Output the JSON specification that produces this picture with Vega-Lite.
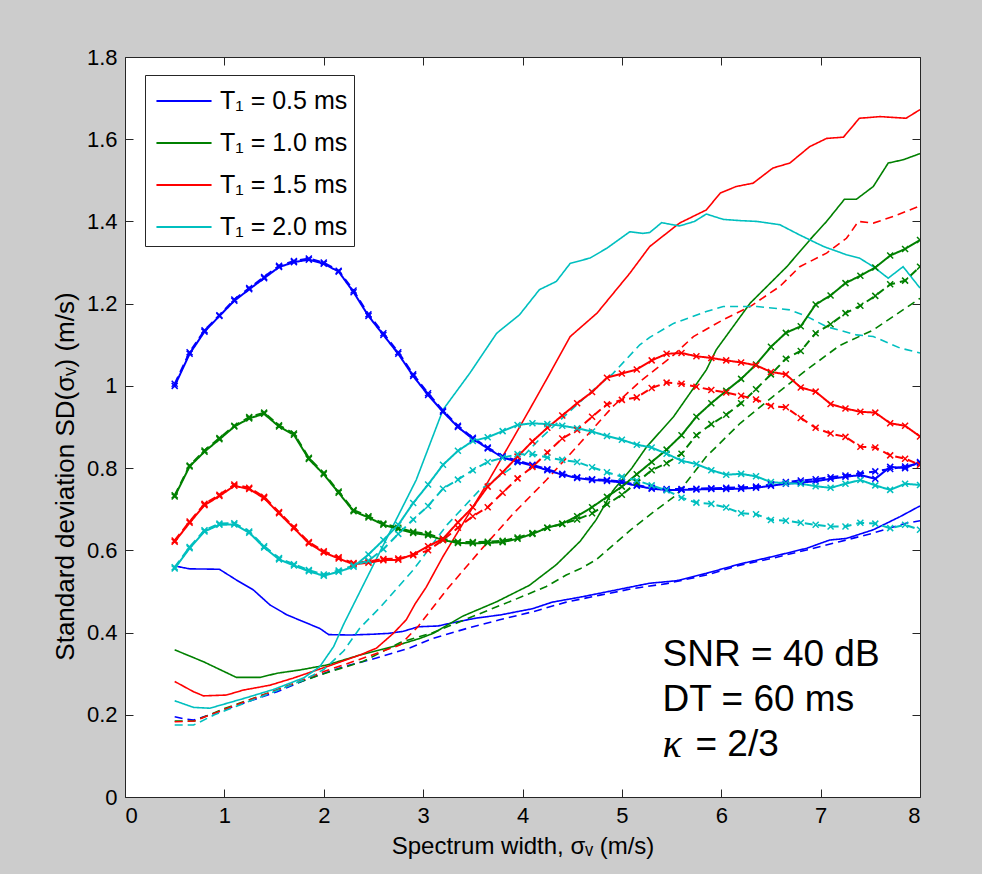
{
 "$schema": "https://vega.github.io/schema/vega-lite/v6.json",
 "width": 795, "height": 740,
 "autosize": {"type": "none"},
 "padding": {"left": 125, "top": 57, "right": 62, "bottom": 77},
 "background": "#cccccc",
 "config": {
  "view": {"fill": "white", "stroke": "#262626", "strokeWidth": 1},
  "font": "Liberation Sans",
  "axis": {"grid": false, "domain": false, "tickColor": "#262626", "tickSize": -8, "tickWidth": 1, "labelColor": "#000", "labelFont": "Liberation Sans", "labelFontSize": 22, "labelPadding": 16, "titleFont": "Liberation Sans", "titleFontSize": 24, "titleFontWeight": "normal", "titleColor": "#000"}
 },
 "datasets": {
  "meta": [
   {"s":"bsm","t":"T₁ = 0.5 ms","d":"solid","m":1},{"s":"bdm","t":"T₁ = 0.5 ms","d":"dashed","m":1},{"s":"bst","t":"T₁ = 0.5 ms","d":"solid","m":0},{"s":"bdt","t":"T₁ = 0.5 ms","d":"dashed","m":0},
   {"s":"gsm","t":"T₁ = 1.0 ms","d":"solid","m":1},{"s":"gdm","t":"T₁ = 1.0 ms","d":"dashed","m":1},{"s":"gst","t":"T₁ = 1.0 ms","d":"solid","m":0},{"s":"gdt","t":"T₁ = 1.0 ms","d":"dashed","m":0},
   {"s":"rsm","t":"T₁ = 1.5 ms","d":"solid","m":1},{"s":"rdm","t":"T₁ = 1.5 ms","d":"dashed","m":1},{"s":"rst","t":"T₁ = 1.5 ms","d":"solid","m":0},{"s":"rdt","t":"T₁ = 1.5 ms","d":"dashed","m":0},
   {"s":"csm","t":"T₁ = 2.0 ms","d":"solid","m":1},{"s":"cdm","t":"T₁ = 2.0 ms","d":"dashed","m":1},{"s":"cst","t":"T₁ = 2.0 ms","d":"solid","m":0},{"s":"cdt","t":"T₁ = 2.0 ms","d":"dashed","m":0}
  ],
  "pts": [
   {"s":"bsm","x":0.5,"y":1.000},{"s":"bsm","x":0.65,"y":1.078},{"s":"bsm","x":0.8,"y":1.132},{"s":"bsm","x":0.95,"y":1.170},{"s":"bsm","x":1.1,"y":1.207},{"s":"bsm","x":1.25,"y":1.235},{"s":"bsm","x":1.4,"y":1.262},{"s":"bsm","x":1.55,"y":1.289},{"s":"bsm","x":1.7,"y":1.301},{"s":"bsm","x":1.85,"y":1.307},{"s":"bsm","x":2.0,"y":1.297},{"s":"bsm","x":2.15,"y":1.278},{"s":"bsm","x":2.3,"y":1.228},{"s":"bsm","x":2.45,"y":1.170},{"s":"bsm","x":2.6,"y":1.124},{"s":"bsm","x":2.75,"y":1.078},{"s":"bsm","x":2.9,"y":1.024},{"s":"bsm","x":3.05,"y":0.978},{"s":"bsm","x":3.2,"y":0.937},{"s":"bsm","x":3.35,"y":0.900},{"s":"bsm","x":3.5,"y":0.871},{"s":"bsm","x":3.65,"y":0.848},{"s":"bsm","x":3.8,"y":0.826},{"s":"bsm","x":3.95,"y":0.815},{"s":"bsm","x":4.1,"y":0.806},{"s":"bsm","x":4.25,"y":0.795},{"s":"bsm","x":4.4,"y":0.784},{"s":"bsm","x":4.55,"y":0.776},{"s":"bsm","x":4.7,"y":0.771},{"s":"bsm","x":4.85,"y":0.769},{"s":"bsm","x":5.0,"y":0.765},{"s":"bsm","x":5.15,"y":0.757},{"s":"bsm","x":5.3,"y":0.750},{"s":"bsm","x":5.45,"y":0.747},{"s":"bsm","x":5.6,"y":0.747},{"s":"bsm","x":5.75,"y":0.748},{"s":"bsm","x":5.9,"y":0.749},{"s":"bsm","x":6.05,"y":0.749},{"s":"bsm","x":6.2,"y":0.750},{"s":"bsm","x":6.35,"y":0.752},{"s":"bsm","x":6.5,"y":0.757},{"s":"bsm","x":6.65,"y":0.762},{"s":"bsm","x":6.8,"y":0.765},{"s":"bsm","x":6.95,"y":0.768},{"s":"bsm","x":7.1,"y":0.774},{"s":"bsm","x":7.25,"y":0.779},{"s":"bsm","x":7.4,"y":0.783},{"s":"bsm","x":7.55,"y":0.774},{"s":"bsm","x":7.7,"y":0.803},{"s":"bsm","x":7.85,"y":0.800},{"s":"bsm","x":8.0,"y":0.815},
   {"s":"bdm","x":0.5,"y":1.005},{"s":"bdm","x":0.65,"y":1.082},{"s":"bdm","x":0.8,"y":1.135},{"s":"bdm","x":0.95,"y":1.172},{"s":"bdm","x":1.1,"y":1.210},{"s":"bdm","x":1.25,"y":1.238},{"s":"bdm","x":1.4,"y":1.265},{"s":"bdm","x":1.55,"y":1.292},{"s":"bdm","x":1.7,"y":1.304},{"s":"bdm","x":1.85,"y":1.310},{"s":"bdm","x":2.0,"y":1.300},{"s":"bdm","x":2.15,"y":1.280},{"s":"bdm","x":2.3,"y":1.232},{"s":"bdm","x":2.45,"y":1.174},{"s":"bdm","x":2.6,"y":1.128},{"s":"bdm","x":2.75,"y":1.082},{"s":"bdm","x":2.9,"y":1.028},{"s":"bdm","x":3.05,"y":0.982},{"s":"bdm","x":3.2,"y":0.940},{"s":"bdm","x":3.35,"y":0.903},{"s":"bdm","x":3.5,"y":0.874},{"s":"bdm","x":3.65,"y":0.850},{"s":"bdm","x":3.8,"y":0.829},{"s":"bdm","x":3.95,"y":0.818},{"s":"bdm","x":4.1,"y":0.808},{"s":"bdm","x":4.25,"y":0.797},{"s":"bdm","x":4.4,"y":0.786},{"s":"bdm","x":4.55,"y":0.778},{"s":"bdm","x":4.7,"y":0.773},{"s":"bdm","x":4.85,"y":0.771},{"s":"bdm","x":5.0,"y":0.767},{"s":"bdm","x":5.15,"y":0.759},{"s":"bdm","x":5.3,"y":0.752},{"s":"bdm","x":5.45,"y":0.749},{"s":"bdm","x":5.6,"y":0.749},{"s":"bdm","x":5.75,"y":0.750},{"s":"bdm","x":5.9,"y":0.751},{"s":"bdm","x":6.05,"y":0.752},{"s":"bdm","x":6.2,"y":0.753},{"s":"bdm","x":6.35,"y":0.755},{"s":"bdm","x":6.5,"y":0.760},{"s":"bdm","x":6.65,"y":0.766},{"s":"bdm","x":6.8,"y":0.770},{"s":"bdm","x":6.95,"y":0.773},{"s":"bdm","x":7.1,"y":0.778},{"s":"bdm","x":7.25,"y":0.782},{"s":"bdm","x":7.4,"y":0.787},{"s":"bdm","x":7.55,"y":0.792},{"s":"bdm","x":7.7,"y":0.798},{"s":"bdm","x":7.85,"y":0.804},{"s":"bdm","x":8.0,"y":0.812},
   {"s":"gsm","x":0.5,"y":0.731},{"s":"gsm","x":0.65,"y":0.804},{"s":"gsm","x":0.8,"y":0.840},{"s":"gsm","x":0.95,"y":0.870},{"s":"gsm","x":1.1,"y":0.901},{"s":"gsm","x":1.25,"y":0.921},{"s":"gsm","x":1.4,"y":0.932},{"s":"gsm","x":1.55,"y":0.901},{"s":"gsm","x":1.7,"y":0.881},{"s":"gsm","x":1.85,"y":0.822},{"s":"gsm","x":2.0,"y":0.785},{"s":"gsm","x":2.15,"y":0.740},{"s":"gsm","x":2.3,"y":0.695},{"s":"gsm","x":2.45,"y":0.680},{"s":"gsm","x":2.6,"y":0.662},{"s":"gsm","x":2.75,"y":0.652},{"s":"gsm","x":2.9,"y":0.642},{"s":"gsm","x":3.05,"y":0.637},{"s":"gsm","x":3.2,"y":0.625},{"s":"gsm","x":3.35,"y":0.618},{"s":"gsm","x":3.5,"y":0.617},{"s":"gsm","x":3.65,"y":0.618},{"s":"gsm","x":3.8,"y":0.620},{"s":"gsm","x":3.95,"y":0.628},{"s":"gsm","x":4.1,"y":0.640},{"s":"gsm","x":4.25,"y":0.655},{"s":"gsm","x":4.4,"y":0.665},{"s":"gsm","x":4.55,"y":0.683},{"s":"gsm","x":4.7,"y":0.705},{"s":"gsm","x":4.85,"y":0.730},{"s":"gsm","x":5.0,"y":0.755},{"s":"gsm","x":5.15,"y":0.785},{"s":"gsm","x":5.3,"y":0.815},{"s":"gsm","x":5.45,"y":0.845},{"s":"gsm","x":5.6,"y":0.880},{"s":"gsm","x":5.75,"y":0.925},{"s":"gsm","x":5.9,"y":0.958},{"s":"gsm","x":6.05,"y":0.988},{"s":"gsm","x":6.2,"y":1.017},{"s":"gsm","x":6.35,"y":1.052},{"s":"gsm","x":6.5,"y":1.095},{"s":"gsm","x":6.65,"y":1.129},{"s":"gsm","x":6.8,"y":1.145},{"s":"gsm","x":6.95,"y":1.198},{"s":"gsm","x":7.1,"y":1.220},{"s":"gsm","x":7.25,"y":1.250},{"s":"gsm","x":7.4,"y":1.268},{"s":"gsm","x":7.55,"y":1.288},{"s":"gsm","x":7.7,"y":1.317},{"s":"gsm","x":7.85,"y":1.333},{"s":"gsm","x":8.0,"y":1.355},
   {"s":"gdm","x":0.5,"y":0.734},{"s":"gdm","x":0.65,"y":0.806},{"s":"gdm","x":0.8,"y":0.843},{"s":"gdm","x":0.95,"y":0.873},{"s":"gdm","x":1.1,"y":0.903},{"s":"gdm","x":1.25,"y":0.924},{"s":"gdm","x":1.4,"y":0.935},{"s":"gdm","x":1.55,"y":0.904},{"s":"gdm","x":1.7,"y":0.884},{"s":"gdm","x":1.85,"y":0.825},{"s":"gdm","x":2.0,"y":0.788},{"s":"gdm","x":2.15,"y":0.743},{"s":"gdm","x":2.3,"y":0.698},{"s":"gdm","x":2.45,"y":0.683},{"s":"gdm","x":2.6,"y":0.665},{"s":"gdm","x":2.75,"y":0.655},{"s":"gdm","x":2.9,"y":0.645},{"s":"gdm","x":3.05,"y":0.640},{"s":"gdm","x":3.2,"y":0.628},{"s":"gdm","x":3.35,"y":0.621},{"s":"gdm","x":3.5,"y":0.620},{"s":"gdm","x":3.65,"y":0.621},{"s":"gdm","x":3.8,"y":0.623},{"s":"gdm","x":3.95,"y":0.631},{"s":"gdm","x":4.1,"y":0.642},{"s":"gdm","x":4.25,"y":0.655},{"s":"gdm","x":4.4,"y":0.664},{"s":"gdm","x":4.55,"y":0.675},{"s":"gdm","x":4.7,"y":0.690},{"s":"gdm","x":4.85,"y":0.712},{"s":"gdm","x":5.0,"y":0.735},{"s":"gdm","x":5.15,"y":0.765},{"s":"gdm","x":5.3,"y":0.795},{"s":"gdm","x":5.45,"y":0.812},{"s":"gdm","x":5.6,"y":0.835},{"s":"gdm","x":5.75,"y":0.880},{"s":"gdm","x":5.9,"y":0.907},{"s":"gdm","x":6.05,"y":0.930},{"s":"gdm","x":6.2,"y":0.958},{"s":"gdm","x":6.35,"y":0.992},{"s":"gdm","x":6.5,"y":1.028},{"s":"gdm","x":6.65,"y":1.066},{"s":"gdm","x":6.8,"y":1.085},{"s":"gdm","x":6.95,"y":1.128},{"s":"gdm","x":7.1,"y":1.150},{"s":"gdm","x":7.25,"y":1.177},{"s":"gdm","x":7.4,"y":1.195},{"s":"gdm","x":7.55,"y":1.219},{"s":"gdm","x":7.7,"y":1.247},{"s":"gdm","x":7.85,"y":1.256},{"s":"gdm","x":8.0,"y":1.290},
   {"s":"rsm","x":0.5,"y":0.621},{"s":"rsm","x":0.65,"y":0.667},{"s":"rsm","x":0.8,"y":0.710},{"s":"rsm","x":0.95,"y":0.732},{"s":"rsm","x":1.1,"y":0.757},{"s":"rsm","x":1.25,"y":0.749},{"s":"rsm","x":1.4,"y":0.727},{"s":"rsm","x":1.55,"y":0.690},{"s":"rsm","x":1.7,"y":0.654},{"s":"rsm","x":1.85,"y":0.617},{"s":"rsm","x":2.0,"y":0.595},{"s":"rsm","x":2.15,"y":0.580},{"s":"rsm","x":2.3,"y":0.566},{"s":"rsm","x":2.45,"y":0.570},{"s":"rsm","x":2.6,"y":0.576},{"s":"rsm","x":2.75,"y":0.577},{"s":"rsm","x":2.9,"y":0.590},{"s":"rsm","x":3.05,"y":0.610},{"s":"rsm","x":3.2,"y":0.628},{"s":"rsm","x":3.35,"y":0.668},{"s":"rsm","x":3.5,"y":0.705},{"s":"rsm","x":3.65,"y":0.755},{"s":"rsm","x":3.8,"y":0.790},{"s":"rsm","x":3.95,"y":0.828},{"s":"rsm","x":4.1,"y":0.865},{"s":"rsm","x":4.25,"y":0.898},{"s":"rsm","x":4.4,"y":0.928},{"s":"rsm","x":4.55,"y":0.958},{"s":"rsm","x":4.7,"y":0.985},{"s":"rsm","x":4.85,"y":1.020},{"s":"rsm","x":5.0,"y":1.030},{"s":"rsm","x":5.15,"y":1.040},{"s":"rsm","x":5.3,"y":1.062},{"s":"rsm","x":5.45,"y":1.078},{"s":"rsm","x":5.6,"y":1.080},{"s":"rsm","x":5.75,"y":1.072},{"s":"rsm","x":5.9,"y":1.068},{"s":"rsm","x":6.05,"y":1.062},{"s":"rsm","x":6.2,"y":1.057},{"s":"rsm","x":6.35,"y":1.050},{"s":"rsm","x":6.5,"y":1.034},{"s":"rsm","x":6.65,"y":1.028},{"s":"rsm","x":6.8,"y":0.996},{"s":"rsm","x":6.95,"y":0.986},{"s":"rsm","x":7.1,"y":0.956},{"s":"rsm","x":7.25,"y":0.945},{"s":"rsm","x":7.4,"y":0.937},{"s":"rsm","x":7.55,"y":0.935},{"s":"rsm","x":7.7,"y":0.909},{"s":"rsm","x":7.85,"y":0.903},{"s":"rsm","x":8.0,"y":0.877},
   {"s":"rdm","x":0.5,"y":0.624},{"s":"rdm","x":0.65,"y":0.670},{"s":"rdm","x":0.8,"y":0.713},{"s":"rdm","x":0.95,"y":0.735},{"s":"rdm","x":1.1,"y":0.760},{"s":"rdm","x":1.25,"y":0.752},{"s":"rdm","x":1.4,"y":0.730},{"s":"rdm","x":1.55,"y":0.693},{"s":"rdm","x":1.7,"y":0.657},{"s":"rdm","x":1.85,"y":0.620},{"s":"rdm","x":2.0,"y":0.598},{"s":"rdm","x":2.15,"y":0.583},{"s":"rdm","x":2.3,"y":0.569},{"s":"rdm","x":2.45,"y":0.573},{"s":"rdm","x":2.6,"y":0.579},{"s":"rdm","x":2.75,"y":0.580},{"s":"rdm","x":2.9,"y":0.588},{"s":"rdm","x":3.05,"y":0.600},{"s":"rdm","x":3.2,"y":0.625},{"s":"rdm","x":3.35,"y":0.655},{"s":"rdm","x":3.5,"y":0.683},{"s":"rdm","x":3.65,"y":0.705},{"s":"rdm","x":3.8,"y":0.740},{"s":"rdm","x":3.95,"y":0.775},{"s":"rdm","x":4.1,"y":0.803},{"s":"rdm","x":4.25,"y":0.838},{"s":"rdm","x":4.4,"y":0.872},{"s":"rdm","x":4.55,"y":0.893},{"s":"rdm","x":4.7,"y":0.925},{"s":"rdm","x":4.85,"y":0.955},{"s":"rdm","x":5.0,"y":0.966},{"s":"rdm","x":5.15,"y":0.972},{"s":"rdm","x":5.3,"y":0.995},{"s":"rdm","x":5.45,"y":1.008},{"s":"rdm","x":5.6,"y":1.005},{"s":"rdm","x":5.75,"y":0.998},{"s":"rdm","x":5.9,"y":0.990},{"s":"rdm","x":6.05,"y":0.984},{"s":"rdm","x":6.2,"y":0.976},{"s":"rdm","x":6.35,"y":0.967},{"s":"rdm","x":6.5,"y":0.951},{"s":"rdm","x":6.65,"y":0.948},{"s":"rdm","x":6.8,"y":0.922},{"s":"rdm","x":6.95,"y":0.898},{"s":"rdm","x":7.1,"y":0.884},{"s":"rdm","x":7.25,"y":0.876},{"s":"rdm","x":7.4,"y":0.852},{"s":"rdm","x":7.55,"y":0.850},{"s":"rdm","x":7.7,"y":0.831},{"s":"rdm","x":7.85,"y":0.823},{"s":"rdm","x":8.0,"y":0.808},
   {"s":"csm","x":0.5,"y":0.556},{"s":"csm","x":0.65,"y":0.605},{"s":"csm","x":0.8,"y":0.646},{"s":"csm","x":0.95,"y":0.662},{"s":"csm","x":1.1,"y":0.663},{"s":"csm","x":1.25,"y":0.643},{"s":"csm","x":1.4,"y":0.607},{"s":"csm","x":1.55,"y":0.578},{"s":"csm","x":1.7,"y":0.563},{"s":"csm","x":1.85,"y":0.549},{"s":"csm","x":2.0,"y":0.538},{"s":"csm","x":2.15,"y":0.548},{"s":"csm","x":2.3,"y":0.560},{"s":"csm","x":2.45,"y":0.590},{"s":"csm","x":2.6,"y":0.625},{"s":"csm","x":2.75,"y":0.662},{"s":"csm","x":2.9,"y":0.715},{"s":"csm","x":3.05,"y":0.760},{"s":"csm","x":3.2,"y":0.808},{"s":"csm","x":3.35,"y":0.842},{"s":"csm","x":3.5,"y":0.866},{"s":"csm","x":3.65,"y":0.875},{"s":"csm","x":3.8,"y":0.890},{"s":"csm","x":3.95,"y":0.905},{"s":"csm","x":4.1,"y":0.909},{"s":"csm","x":4.25,"y":0.907},{"s":"csm","x":4.4,"y":0.903},{"s":"csm","x":4.55,"y":0.897},{"s":"csm","x":4.7,"y":0.889},{"s":"csm","x":4.85,"y":0.878},{"s":"csm","x":5.0,"y":0.869},{"s":"csm","x":5.15,"y":0.857},{"s":"csm","x":5.3,"y":0.850},{"s":"csm","x":5.45,"y":0.835},{"s":"csm","x":5.6,"y":0.818},{"s":"csm","x":5.75,"y":0.810},{"s":"csm","x":5.9,"y":0.795},{"s":"csm","x":6.05,"y":0.784},{"s":"csm","x":6.2,"y":0.786},{"s":"csm","x":6.35,"y":0.780},{"s":"csm","x":6.5,"y":0.766},{"s":"csm","x":6.65,"y":0.763},{"s":"csm","x":6.8,"y":0.762},{"s":"csm","x":6.95,"y":0.756},{"s":"csm","x":7.1,"y":0.752},{"s":"csm","x":7.25,"y":0.762},{"s":"csm","x":7.4,"y":0.771},{"s":"csm","x":7.55,"y":0.758},{"s":"csm","x":7.7,"y":0.747},{"s":"csm","x":7.85,"y":0.762},{"s":"csm","x":8.0,"y":0.759},
   {"s":"cdm","x":0.5,"y":0.559},{"s":"cdm","x":0.65,"y":0.608},{"s":"cdm","x":0.8,"y":0.649},{"s":"cdm","x":0.95,"y":0.665},{"s":"cdm","x":1.1,"y":0.666},{"s":"cdm","x":1.25,"y":0.646},{"s":"cdm","x":1.4,"y":0.610},{"s":"cdm","x":1.55,"y":0.581},{"s":"cdm","x":1.7,"y":0.566},{"s":"cdm","x":1.85,"y":0.552},{"s":"cdm","x":2.0,"y":0.541},{"s":"cdm","x":2.15,"y":0.551},{"s":"cdm","x":2.3,"y":0.563},{"s":"cdm","x":2.45,"y":0.575},{"s":"cdm","x":2.6,"y":0.603},{"s":"cdm","x":2.75,"y":0.640},{"s":"cdm","x":2.9,"y":0.675},{"s":"cdm","x":3.05,"y":0.708},{"s":"cdm","x":3.2,"y":0.750},{"s":"cdm","x":3.35,"y":0.772},{"s":"cdm","x":3.5,"y":0.795},{"s":"cdm","x":3.65,"y":0.815},{"s":"cdm","x":3.8,"y":0.825},{"s":"cdm","x":3.95,"y":0.834},{"s":"cdm","x":4.1,"y":0.834},{"s":"cdm","x":4.25,"y":0.826},{"s":"cdm","x":4.4,"y":0.820},{"s":"cdm","x":4.55,"y":0.815},{"s":"cdm","x":4.7,"y":0.802},{"s":"cdm","x":4.85,"y":0.790},{"s":"cdm","x":5.0,"y":0.779},{"s":"cdm","x":5.15,"y":0.770},{"s":"cdm","x":5.3,"y":0.758},{"s":"cdm","x":5.45,"y":0.746},{"s":"cdm","x":5.6,"y":0.728},{"s":"cdm","x":5.75,"y":0.716},{"s":"cdm","x":5.9,"y":0.713},{"s":"cdm","x":6.05,"y":0.704},{"s":"cdm","x":6.2,"y":0.690},{"s":"cdm","x":6.35,"y":0.688},{"s":"cdm","x":6.5,"y":0.674},{"s":"cdm","x":6.65,"y":0.672},{"s":"cdm","x":6.8,"y":0.667},{"s":"cdm","x":6.95,"y":0.662},{"s":"cdm","x":7.1,"y":0.658},{"s":"cdm","x":7.25,"y":0.658},{"s":"cdm","x":7.4,"y":0.667},{"s":"cdm","x":7.55,"y":0.665},{"s":"cdm","x":7.7,"y":0.654},{"s":"cdm","x":7.85,"y":0.662},{"s":"cdm","x":8.0,"y":0.650},
   {"s":"bst","x":0.5,"y":0.562},{"s":"bst","x":0.65,"y":0.555},{"s":"bst","x":0.95,"y":0.554},{"s":"bst","x":1.12,"y":0.528},{"s":"bst","x":1.29,"y":0.504},{"s":"bst","x":1.46,"y":0.467},{"s":"bst","x":1.63,"y":0.443},{"s":"bst","x":1.79,"y":0.427},{"s":"bst","x":1.96,"y":0.410},{"s":"bst","x":2.05,"y":0.395},{"s":"bst","x":2.27,"y":0.394},{"s":"bst","x":2.5,"y":0.396},{"s":"bst","x":2.65,"y":0.398},{"s":"bst","x":2.8,"y":0.403},{"s":"bst","x":2.95,"y":0.414},{"s":"bst","x":3.15,"y":0.416},{"s":"bst","x":3.3,"y":0.424},{"s":"bst","x":3.53,"y":0.435},{"s":"bst","x":3.78,"y":0.443},{"s":"bst","x":4.1,"y":0.458},{"s":"bst","x":4.3,"y":0.474},{"s":"bst","x":4.6,"y":0.487},{"s":"bst","x":4.95,"y":0.504},{"s":"bst","x":5.28,"y":0.520},{"s":"bst","x":5.55,"y":0.526},{"s":"bst","x":5.85,"y":0.544},{"s":"bst","x":6.19,"y":0.567},{"s":"bst","x":6.52,"y":0.585},{"s":"bst","x":6.86,"y":0.605},{"s":"bst","x":7.09,"y":0.625},{"s":"bst","x":7.26,"y":0.629},{"s":"bst","x":7.53,"y":0.650},{"s":"bst","x":7.8,"y":0.682},{"s":"bst","x":8.0,"y":0.708},
   {"s":"bdt","x":0.5,"y":0.195},{"s":"bdt","x":0.6,"y":0.190},{"s":"bdt","x":0.69,"y":0.187},{"s":"bdt","x":0.855,"y":0.200},{"s":"bdt","x":1.19,"y":0.228},{"s":"bdt","x":1.53,"y":0.256},{"s":"bdt","x":1.86,"y":0.289},{"s":"bdt","x":2.2,"y":0.317},{"s":"bdt","x":2.53,"y":0.338},{"s":"bdt","x":2.87,"y":0.363},{"s":"bdt","x":3.1,"y":0.386},{"s":"bdt","x":3.44,"y":0.410},{"s":"bdt","x":3.77,"y":0.431},{"s":"bdt","x":4.11,"y":0.451},{"s":"bdt","x":4.44,"y":0.474},{"s":"bdt","x":4.78,"y":0.491},{"s":"bdt","x":5.11,"y":0.507},{"s":"bdt","x":5.45,"y":0.519},{"s":"bdt","x":5.85,"y":0.540},{"s":"bdt","x":6.19,"y":0.564},{"s":"bdt","x":6.52,"y":0.581},{"s":"bdt","x":6.86,"y":0.601},{"s":"bdt","x":7.19,"y":0.621},{"s":"bdt","x":7.53,"y":0.642},{"s":"bdt","x":7.86,"y":0.666},{"s":"bdt","x":8.0,"y":0.672},
   {"s":"gst","x":0.5,"y":0.358},{"s":"gst","x":0.79,"y":0.329},{"s":"gst","x":1.12,"y":0.291},{"s":"gst","x":1.36,"y":0.291},{"s":"gst","x":1.53,"y":0.301},{"s":"gst","x":1.76,"y":0.309},{"s":"gst","x":2.03,"y":0.321},{"s":"gst","x":2.36,"y":0.345},{"s":"gst","x":2.7,"y":0.366},{"s":"gst","x":2.97,"y":0.386},{"s":"gst","x":3.1,"y":0.398},{"s":"gst","x":3.4,"y":0.440},{"s":"gst","x":3.74,"y":0.475},{"s":"gst","x":4.07,"y":0.515},{"s":"gst","x":4.34,"y":0.565},{"s":"gst","x":4.58,"y":0.622},{"s":"gst","x":4.74,"y":0.674},{"s":"gst","x":4.91,"y":0.745},{"s":"gst","x":5.1,"y":0.800},{"s":"gst","x":5.25,"y":0.852},{"s":"gst","x":5.52,"y":0.925},{"s":"gst","x":5.85,"y":1.039},{"s":"gst","x":5.95,"y":1.088},{"s":"gst","x":6.29,"y":1.201},{"s":"gst","x":6.66,"y":1.290},{"s":"gst","x":6.92,"y":1.363},{"s":"gst","x":7.06,"y":1.400},{"s":"gst","x":7.24,"y":1.454},{"s":"gst","x":7.36,"y":1.454},{"s":"gst","x":7.53,"y":1.485},{"s":"gst","x":7.68,"y":1.542},{"s":"gst","x":7.83,"y":1.550},{"s":"gst","x":8.0,"y":1.565},
   {"s":"gdt","x":0.5,"y":0.185},{"s":"gdt","x":0.7,"y":0.185},{"s":"gdt","x":1.0,"y":0.215},{"s":"gdt","x":1.5,"y":0.258},{"s":"gdt","x":2.0,"y":0.300},{"s":"gdt","x":2.4,"y":0.330},{"s":"gdt","x":2.77,"y":0.376},{"s":"gdt","x":3.1,"y":0.400},{"s":"gdt","x":3.54,"y":0.443},{"s":"gdt","x":3.91,"y":0.479},{"s":"gdt","x":4.24,"y":0.512},{"s":"gdt","x":4.44,"y":0.540},{"s":"gdt","x":4.58,"y":0.555},{"s":"gdt","x":4.74,"y":0.577},{"s":"gdt","x":5.08,"y":0.648},{"s":"gdt","x":5.3,"y":0.690},{"s":"gdt","x":5.55,"y":0.735},{"s":"gdt","x":5.85,"y":0.828},{"s":"gdt","x":6.19,"y":0.909},{"s":"gdt","x":6.52,"y":0.974},{"s":"gdt","x":6.86,"y":1.039},{"s":"gdt","x":7.19,"y":1.098},{"s":"gdt","x":7.53,"y":1.136},{"s":"gdt","x":8.0,"y":1.213},
   {"s":"rst","x":0.5,"y":0.281},{"s":"rst","x":0.69,"y":0.256},{"s":"rst","x":0.79,"y":0.246},{"s":"rst","x":1.02,"y":0.248},{"s":"rst","x":1.19,"y":0.260},{"s":"rst","x":1.46,"y":0.272},{"s":"rst","x":1.69,"y":0.289},{"s":"rst","x":2.03,"y":0.317},{"s":"rst","x":2.36,"y":0.345},{"s":"rst","x":2.53,"y":0.362},{"s":"rst","x":2.7,"y":0.398},{"s":"rst","x":2.83,"y":0.431},{"s":"rst","x":2.92,"y":0.470},{"s":"rst","x":3.03,"y":0.510},{"s":"rst","x":3.2,"y":0.585},{"s":"rst","x":3.4,"y":0.665},{"s":"rst","x":3.6,"y":0.745},{"s":"rst","x":3.9,"y":0.870},{"s":"rst","x":4.07,"y":0.942},{"s":"rst","x":4.24,"y":1.015},{"s":"rst","x":4.48,"y":1.120},{"s":"rst","x":4.75,"y":1.177},{"s":"rst","x":5.08,"y":1.274},{"s":"rst","x":5.28,"y":1.339},{"s":"rst","x":5.58,"y":1.396},{"s":"rst","x":5.85,"y":1.428},{"s":"rst","x":5.99,"y":1.469},{"s":"rst","x":6.15,"y":1.485},{"s":"rst","x":6.32,"y":1.493},{"s":"rst","x":6.52,"y":1.530},{"s":"rst","x":6.69,"y":1.542},{"s":"rst","x":6.89,"y":1.582},{"s":"rst","x":7.06,"y":1.602},{"s":"rst","x":7.23,"y":1.605},{"s":"rst","x":7.39,"y":1.651},{"s":"rst","x":7.6,"y":1.655},{"s":"rst","x":7.86,"y":1.651},{"s":"rst","x":8.0,"y":1.672},
   {"s":"rdt","x":0.5,"y":0.183},{"s":"rdt","x":0.7,"y":0.185},{"s":"rdt","x":1.0,"y":0.213},{"s":"rdt","x":1.5,"y":0.258},{"s":"rdt","x":2.0,"y":0.305},{"s":"rdt","x":2.4,"y":0.338},{"s":"rdt","x":2.77,"y":0.370},{"s":"rdt","x":2.95,"y":0.415},{"s":"rdt","x":3.24,"y":0.505},{"s":"rdt","x":3.57,"y":0.598},{"s":"rdt","x":3.91,"y":0.690},{"s":"rdt","x":4.24,"y":0.771},{"s":"rdt","x":4.58,"y":0.861},{"s":"rdt","x":4.91,"y":0.950},{"s":"rdt","x":5.18,"y":1.010},{"s":"rdt","x":5.52,"y":1.075},{"s":"rdt","x":5.72,"y":1.120},{"s":"rdt","x":6.02,"y":1.161},{"s":"rdt","x":6.29,"y":1.193},{"s":"rdt","x":6.59,"y":1.242},{"s":"rdt","x":6.79,"y":1.290},{"s":"rdt","x":7.06,"y":1.323},{"s":"rdt","x":7.26,"y":1.359},{"s":"rdt","x":7.38,"y":1.400},{"s":"rdt","x":7.53,"y":1.396},{"s":"rdt","x":7.73,"y":1.412},{"s":"rdt","x":8.0,"y":1.438},
   {"s":"cst","x":0.5,"y":0.234},{"s":"cst","x":0.69,"y":0.218},{"s":"cst","x":0.855,"y":0.216},{"s":"cst","x":1.2,"y":0.240},{"s":"cst","x":1.5,"y":0.262},{"s":"cst","x":1.8,"y":0.290},{"s":"cst","x":1.96,"y":0.317},{"s":"cst","x":2.1,"y":0.366},{"s":"cst","x":2.2,"y":0.420},{"s":"cst","x":2.5,"y":0.565},{"s":"cst","x":2.93,"y":0.771},{"s":"cst","x":3.2,"y":0.942},{"s":"cst","x":3.47,"y":1.031},{"s":"cst","x":3.74,"y":1.128},{"s":"cst","x":3.97,"y":1.173},{"s":"cst","x":4.17,"y":1.234},{"s":"cst","x":4.34,"y":1.254},{"s":"cst","x":4.48,"y":1.298},{"s":"cst","x":4.68,"y":1.311},{"s":"cst","x":4.85,"y":1.335},{"s":"cst","x":5.08,"y":1.375},{"s":"cst","x":5.21,"y":1.371},{"s":"cst","x":5.28,"y":1.373},{"s":"cst","x":5.4,"y":1.397},{"s":"cst","x":5.58,"y":1.389},{"s":"cst","x":5.73,"y":1.400},{"s":"cst","x":5.85,"y":1.418},{"s":"cst","x":6.02,"y":1.405},{"s":"cst","x":6.19,"y":1.402},{"s":"cst","x":6.36,"y":1.400},{"s":"cst","x":6.59,"y":1.392},{"s":"cst","x":6.79,"y":1.367},{"s":"cst","x":7.03,"y":1.339},{"s":"cst","x":7.26,"y":1.319},{"s":"cst","x":7.39,"y":1.311},{"s":"cst","x":7.53,"y":1.290},{"s":"cst","x":7.68,"y":1.262},{"s":"cst","x":7.83,"y":1.290},{"s":"cst","x":8.0,"y":1.238},
   {"s":"cdt","x":0.5,"y":0.175},{"s":"cdt","x":0.69,"y":0.175},{"s":"cdt","x":0.9,"y":0.200},{"s":"cdt","x":1.2,"y":0.228},{"s":"cdt","x":1.5,"y":0.256},{"s":"cdt","x":1.8,"y":0.285},{"s":"cdt","x":2.0,"y":0.310},{"s":"cdt","x":2.2,"y":0.355},{"s":"cdt","x":2.36,"y":0.410},{"s":"cdt","x":2.57,"y":0.462},{"s":"cdt","x":2.9,"y":0.552},{"s":"cdt","x":3.24,"y":0.662},{"s":"cdt","x":3.57,"y":0.747},{"s":"cdt","x":3.91,"y":0.804},{"s":"cdt","x":4.17,"y":0.870},{"s":"cdt","x":4.44,"y":0.930},{"s":"cdt","x":4.71,"y":0.990},{"s":"cdt","x":4.91,"y":1.030},{"s":"cdt","x":5.18,"y":1.100},{"s":"cdt","x":5.28,"y":1.118},{"s":"cdt","x":5.52,"y":1.152},{"s":"cdt","x":5.85,"y":1.181},{"s":"cdt","x":6.02,"y":1.193},{"s":"cdt","x":6.36,"y":1.193},{"s":"cdt","x":6.69,"y":1.185},{"s":"cdt","x":6.86,"y":1.169},{"s":"cdt","x":7.06,"y":1.144},{"s":"cdt","x":7.36,"y":1.124},{"s":"cdt","x":7.53,"y":1.120},{"s":"cdt","x":7.8,"y":1.092},{"s":"cdt","x":8.0,"y":1.080}
  ]
 },
 "resolve": {"axis": {"x": "independent", "y": "independent"}, "legend": {"color": "independent", "strokeDash": "independent"}},
 "layer": [
  {
   "data": {"name": "pts"},
   "transform": [{"lookup": "s", "from": {"data": {"name": "meta"}, "key": "s", "fields": ["t", "d", "m"]}}, {"filter": "datum.m == 0"}],
   "mark": {"type": "line", "strokeWidth": 1.6, "clip": true},
   "encoding": {
    "x": {"field": "x", "type": "quantitative", "scale": {"domain": [0, 8], "nice": false, "zero": false}, "axis": {"orient": "bottom", "values": [0,1,2,3,4,5,6,7,8], "title": "Spectrum width, σᵥ (m/s)", "titlePadding": 8}},
    "y": {"field": "y", "type": "quantitative", "scale": {"domain": [0, 1.8], "nice": false}, "axis": {"orient": "left", "values": [0,0.2,0.4,0.6,0.8,1,1.2,1.4,1.6,1.8], "format": ".1~f", "title": "Standard deviation SD(σᵥ) (m/s)", "titleFontSize": 26, "titlePadding": 8, "titleY": 419, "titleAlign": "center"}},
    "color": {"field": "t", "type": "nominal", "scale": {"domain": ["T₁ = 0.5 ms", "T₁ = 1.0 ms", "T₁ = 1.5 ms", "T₁ = 2.0 ms"], "range": ["#0000ff", "#008000", "#ff0000", "#00bfbf"]},
     "legend": {"title": null, "orient": "none", "legendX": 20, "legendY": 18, "symbolType": "M-1.45,0L1.45,0", "symbolSize": 1444, "symbolOffset": 13, "symbolStrokeWidth": 2, "labelFontSize": 25, "labelFont": "Liberation Sans", "labelColor": "#000", "strokeColor": "#262626", "fillColor": "white", "padding": 6, "rowPadding": 9, "labelOffset": 16}},
    "strokeDash": {"field": "d", "type": "nominal", "scale": {"domain": ["solid", "dashed"], "range": [[1, 0], [8, 5]]}, "legend": null},
    "detail": {"field": "s"}
   }
  },
  {
   "data": {"name": "pts"},
   "transform": [{"lookup": "s", "from": {"data": {"name": "meta"}, "key": "s", "fields": ["t", "d", "m"]}}, {"filter": "datum.m == 1"}],
   "mark": {"type": "line", "strokeWidth": 2, "clip": true},
   "encoding": {
    "x": {"field": "x", "type": "quantitative", "axis": {"orient": "top", "values": [0,1,2,3,4,5,6,7,8], "labels": false, "title": null}},
    "y": {"field": "y", "type": "quantitative", "axis": {"orient": "right", "values": [0,0.2,0.4,0.6,0.8,1,1.2,1.4,1.6,1.8], "labels": false, "title": null}},
    "color": {"field": "t", "type": "nominal", "legend": null},
    "strokeDash": {"field": "d", "type": "nominal", "legend": null},
    "detail": {"field": "s"}
   }
  },
  {
   "data": {"name": "pts"},
   "transform": [{"lookup": "s", "from": {"data": {"name": "meta"}, "key": "s", "fields": ["t", "d", "m"]}}, {"filter": "datum.m == 1"}],
   "mark": {"type": "point", "shape": "M-1,-1L1,1M-1,1L1,-1", "size": 36, "strokeWidth": 1.5, "filled": false, "opacity": 1, "clip": true},
   "encoding": {
    "x": {"field": "x", "type": "quantitative", "axis": null},
    "y": {"field": "y", "type": "quantitative", "axis": null},
    "color": {"field": "t", "type": "nominal", "legend": null}
   }
  },
  {
   "data": {"values": [{"x": 5.41, "y": 0.345, "label": "SNR = 40 dB"}, {"x": 5.41, "y": 0.236, "label": "DT = 60 ms"}, {"x": 5.74, "y": 0.127, "label": "= 2/3"}]},
   "mark": {"type": "text", "align": "left", "baseline": "middle", "font": "Liberation Sans", "fontSize": 37, "color": "#000"},
   "encoding": {
    "x": {"field": "x", "type": "quantitative", "axis": null},
    "y": {"field": "y", "type": "quantitative", "axis": null},
    "text": {"field": "label"}
   }
  },
  {
   "data": {"values": [{"x": 5.41, "y": 0.127, "label": "κ"}]},
   "mark": {"type": "text", "align": "left", "baseline": "middle", "font": "Liberation Serif", "fontStyle": "italic", "fontSize": 40, "color": "#000"},
   "encoding": {
    "x": {"field": "x", "type": "quantitative", "axis": null},
    "y": {"field": "y", "type": "quantitative", "axis": null},
    "text": {"field": "label"}
   }
  }
 ]
}
